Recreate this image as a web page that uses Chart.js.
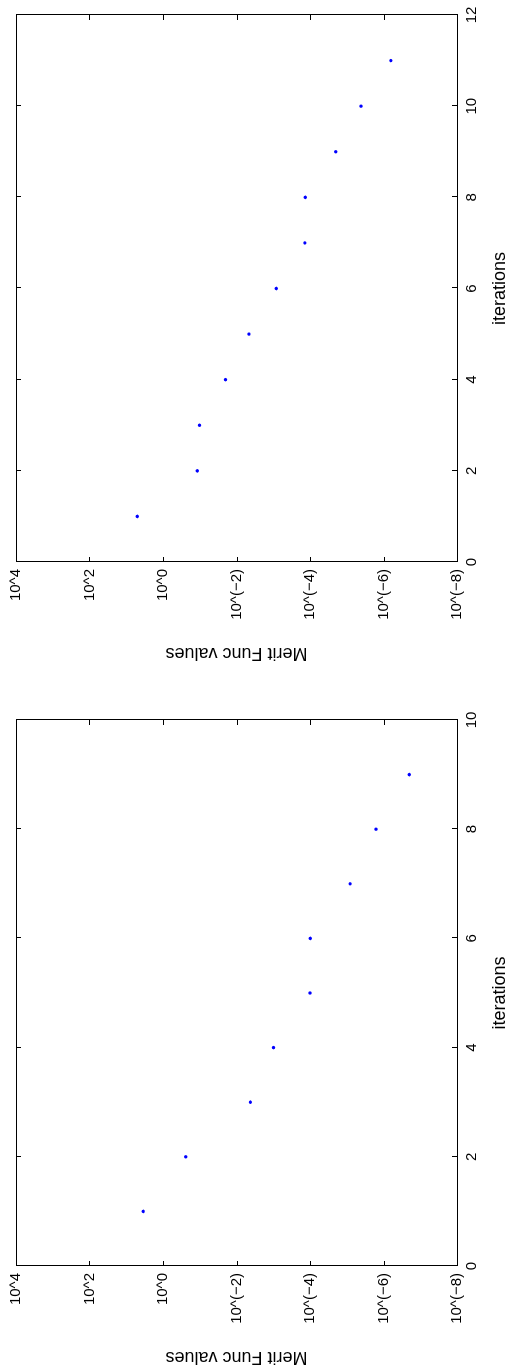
<!DOCTYPE html>
<html>
<head>
<meta charset="utf-8">
<script src="https://cdn.jsdelivr.net/npm/chart.js@4/dist/chart.umd.min.js"></script>
<style>
  html, body { margin: 0; padding: 0; background: #fff; overflow: hidden; }
  /* the figure is laid out landscape and turned a quarter turn */
  #figure {
    position: absolute; left: 0; top: 0;
    width: 1371px; height: 514px; background: #fff;
    transform-origin: 0 0;
    transform: translateY(1371px) rotate(-90deg);
  }
  .panel { position: absolute; top: 0; }
  #leftPanel { left: 0; }
  #rightPanel { left: 704px; }
</style>
</head>
<body>
<div id="figure">
  <div class="panel" id="leftPanel"><canvas id="runA" width="685" height="514"></canvas></div>
  <div class="panel" id="rightPanel"><canvas id="runB" width="667" height="514"></canvas></div>
</div>
<script>
// merit function value per iteration, two runs
var iterA = [1, 2, 3, 4, 5, 6, 7, 8, 9];
var meritA = [3.47, 0.24, 4.2e-3, 9.8e-4, 1.0e-4, 9.8e-5, 8.1e-6, 1.6e-6, 2.0e-7];

var iterB = [1, 2, 3, 4, 5, 6, 7, 8, 9, 10, 11];
var meritB = [5.0, 0.117, 0.102, 0.020, 4.6e-3, 8.3e-4, 1.38e-4, 1.35e-4, 2.0e-5, 4.1e-6, 6.3e-7];

// log axis ticks (every second decade) and their labels
var yTickValues = [1e-8, 1e-6, 1e-4, 1e-2, 1, 1e2, 1e4];
var yTickLabels = ['10^(\u22128)', '10^(\u22126)', '10^(\u22124)', '10^(\u22122)', '10^0', '10^2', '10^4'];

var FONT = "'Liberation Sans', Arial, Helvetica, sans-serif";
Chart.defaults.color = '#000';
Chart.defaults.font.family = FONT;

// matlab style box with inward ticks on all four sides
var boxTicks = {
  id: 'boxTicks',
  afterDraw: function (chart) {
    var ctx = chart.ctx, a = chart.chartArea;
    var xs = chart.scales.x, ys = chart.scales.y;
    var L = 5;
    ctx.save();
    ctx.strokeStyle = '#000';
    ctx.lineWidth = 1;
    ctx.beginPath();
    xs.ticks.forEach(function (t) {
      var px = Math.round(xs.getPixelForValue(t.value)) + 0.5;
      ctx.moveTo(px, a.bottom); ctx.lineTo(px, a.bottom - L);
      ctx.moveTo(px, a.top); ctx.lineTo(px, a.top + L);
    });
    ys.ticks.forEach(function (t) {
      var py = Math.round(ys.getPixelForValue(t.value)) + 0.5;
      ctx.moveTo(a.left, py); ctx.lineTo(a.left + L, py);
      ctx.moveTo(a.right, py); ctx.lineTo(a.right - L, py);
    });
    ctx.stroke();
    ctx.strokeRect(Math.round(a.left) + 0.5, Math.round(a.top) + 0.5,
      Math.round(a.right - a.left), Math.round(a.bottom - a.top));
    ctx.restore();
  }
};

function makeChart(id, iters, merit, xMax, padRight) {
  var pts = iters.map(function (it, i) { return { x: it, y: merit[i] }; });
  return new Chart(document.getElementById(id), {
    type: 'scatter',
    data: {
      datasets: [{
        data: pts,
        backgroundColor: '#0000ff',
        borderWidth: 0,
        pointRadius: 1.7,
        pointHoverRadius: 1.7
      }]
    },
    options: {
      responsive: false,
      maintainAspectRatio: false,
      animation: false,
      events: [],
      layout: { padding: { top: 16, right: padRight, bottom: 0, left: 0 } },
      plugins: { legend: { display: false }, tooltip: { enabled: false } },
      scales: {
        x: {
          type: 'linear',
          min: 0,
          max: xMax,
          grid: { display: false, drawTicks: false },
          border: { display: false },
          ticks: { stepSize: 2, padding: 6, font: { size: 15 }, maxRotation: 0 },
          title: { display: true, text: 'iterations', font: { size: 18 }, padding: { top: 0, bottom: 3 } },
          afterFit: function (s) { s.height = 57; }
        },
        y: {
          type: 'logarithmic',
          min: 1e-8,
          max: 1e4,
          grid: { display: false, drawTicks: false },
          border: { display: false },
          afterBuildTicks: function (s) {
            s.ticks = yTickValues.map(function (v) { return { value: v }; });
          },
          ticks: {
            padding: 7,
            font: { size: 15 },
            callback: function (v) {
              var k = yTickValues.findIndex(function (t) { return Math.abs(Math.log10(t) - Math.log10(v)) < 1e-6; });
              return k < 0 ? '' : yTickLabels[k];
            }
          },
          title: { display: true, text: 'Merit Func values', font: { size: 18 }, padding: { top: 3.5, bottom: 0 } },
          afterFit: function (s) { s.width = 105; }
        }
      }
    },
    plugins: [boxTicks]
  });
}

makeChart('runA', iterA, meritA, 10, 34);
makeChart('runB', iterB, meritB, 12, 15);
</script>
</body>
</html>
